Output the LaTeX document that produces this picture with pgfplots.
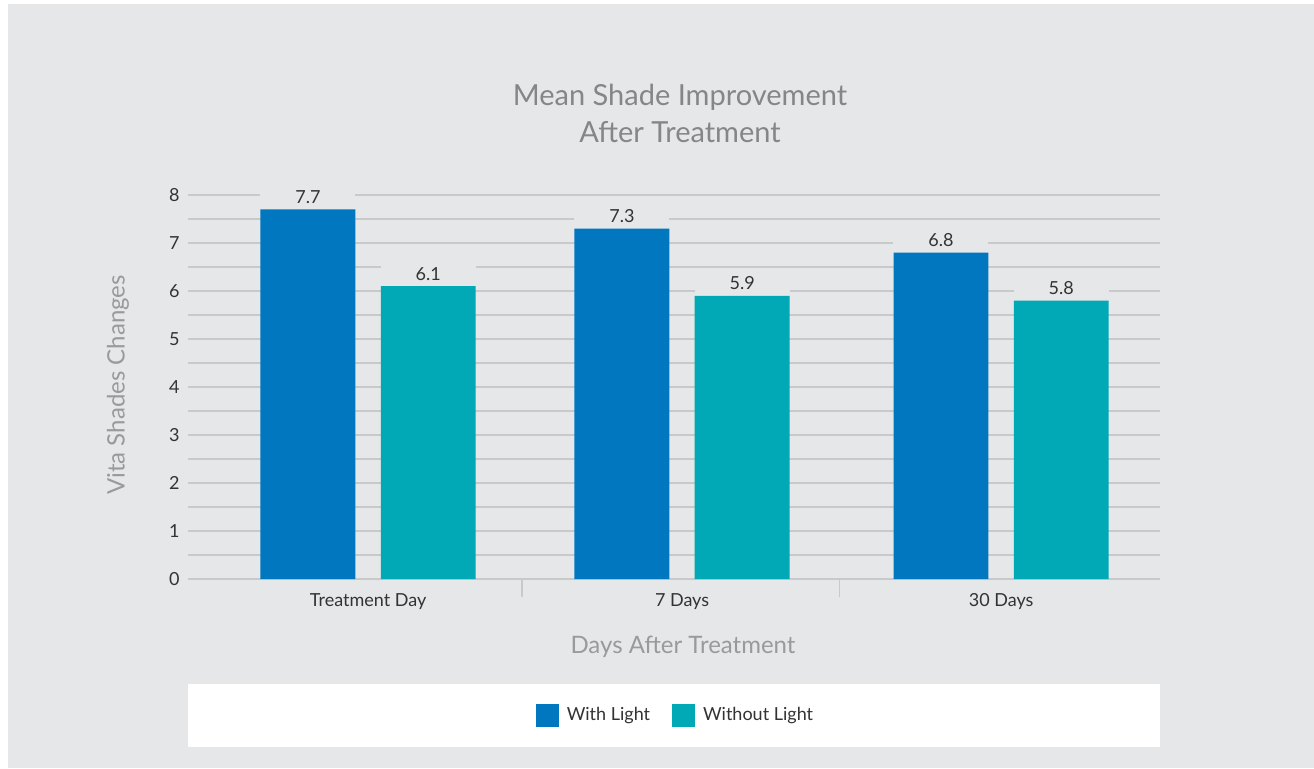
\documentclass[border=0pt]{standalone}
\usepackage{pgfplots}
\pgfplotsset{compat=1.18}
\usepackage{fontspec}
\setmainfont{Lato}
\definecolor{bg}{HTML}{E6E7E9}
\definecolor{cblue}{HTML}{0077BF}
\definecolor{cteal}{HTML}{00A9B5}
\definecolor{gridc}{HTML}{C8C9CB}
\definecolor{txt}{HTML}{333333}
\definecolor{ttl}{HTML}{848689}
\definecolor{lbl}{HTML}{999A9D}
\begin{document}
\begin{tikzpicture}
\useasboundingbox (0,0) rectangle (657pt,384pt);
\fill[white] (0,0) rectangle (657pt,384pt);
\fill[bg] (4pt,0) rectangle (657pt,382pt);
\fill[white] (94pt,10.5pt) rectangle (580pt,42pt);
\begin{axis}[
  at={(94pt,94.5pt)}, anchor=south west,
  scale only axis, width=486pt, height=192pt,
  xmin=-0.569, xmax=2.502, ymin=0, ymax=8,
  clip=false,
  /pgf/number format/assume math mode=true,
  axis line style={draw=none},
  tick pos=left,
  ytick={0,1,...,8},
  minor ytick={0.5,1.5,...,7.5},
  ymajorgrids, yminorgrids,
  grid style={gridc, line width=0.75pt},
  minor grid style={gridc, line width=0.75pt},
  major tick length=0pt, minor tick length=0pt,
  yticklabel style={font=\fontsize{9}{11}\selectfont, text=txt, anchor=east, inner sep=0pt, xshift=-4pt},
  xtick={0,0.992,2},
  xticklabels={Treatment Day, 7 Days, 30 Days},
  xticklabel style={font=\fontsize{9}{11}\selectfont, text=txt, anchor=north, inner sep=0pt, yshift=-7pt},
  extra x ticks={0.487,1.49},
  extra x tick labels={},
  extra x tick style={major tick length=9pt, tick align=outside, tick pos=left, xtick style={draw=gridc, line width=0.75pt}, xmajorgrids=false},
  legend columns=2,
  legend style={at={(0.5015,-0.3555)}, anchor=center, draw=none, fill=none,
    font=\fontsize{9}{11}\selectfont, text=txt,
    /tikz/every even column/.append style={column sep=10pt},
    nodes={inner sep=1pt}},
]
\addplot[ybar, fill=cblue, draw=none, bar width=0.3, bar shift=0,
  nodes near coords,
  every node near coord/.append style={fill=bg, minimum width=47.5pt, minimum height=12pt, anchor=south, inner sep=0pt, font=\fontsize{9}{11}\selectfont, text=txt},
  legend image code/.code={\fill[cblue] (0pt,-5.75pt) rectangle (11.5pt,5.75pt);}]
  coordinates {(-0.19,7.7) (0.802,7.3) (1.81,6.8)};
\addlegendentry{\hspace{3pt}With Light}
\addplot[ybar, fill=cteal, draw=none, bar width=0.3, bar shift=0,
  nodes near coords,
  every node near coord/.append style={fill=bg, minimum width=47.5pt, minimum height=12pt, anchor=south, inner sep=0pt, font=\fontsize{9}{11}\selectfont, text=txt},
  legend image code/.code={\fill[cteal] (0pt,-5.75pt) rectangle (11.5pt,5.75pt);}]
  coordinates {(0.19,6.1) (1.182,5.9) (2.19,5.8)};
\addlegendentry{\hspace{3pt}Without Light}
\end{axis}
\node[align=center, text=ttl, font=\fontsize{14.5}{18.5}\selectfont] at (340pt,327.5pt) {Mean Shade Improvement\\After Treatment};
\node[text=lbl, font=\fontsize{12}{14}\selectfont] at (341.5pt,60.5pt) {Days After Treatment};
\node[text=lbl, rotate=90, font=\fontsize{12}{14}\selectfont] at (59pt,191.5pt) {Vita Shades Changes};
\end{tikzpicture}
\end{document}
